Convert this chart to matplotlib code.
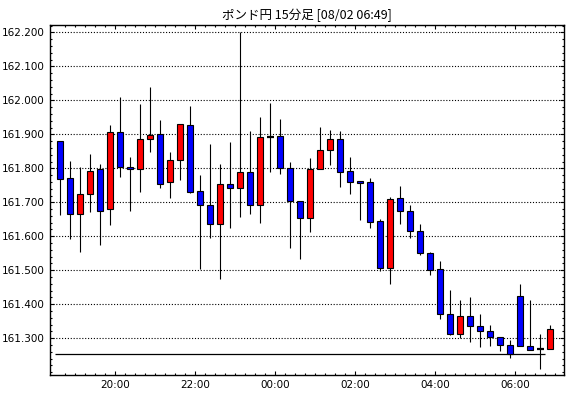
import matplotlib
matplotlib.use("Agg")
import matplotlib.pyplot as plt
import numpy as np
import pandas as pd
from matplotlib.ticker import MultipleLocator, FixedLocator

# 15分足 (18:30 - 06:45)
times = pd.date_range("2023-08-01 18:30", periods=50, freq="15min")
opens = [161.879, 161.771, 161.665, 161.724, 161.797, 161.679, 161.906, 161.803, 161.797, 161.885,
         161.900, 161.759, 161.824, 161.926, 161.732, 161.691, 161.635, 161.753, 161.741, 161.788,
         161.691, 161.892, 161.894, 161.800, 161.703, 161.653, 161.797, 161.853, 161.885, 161.791,
         161.762, 161.759, 161.644, 161.508, 161.712, 161.674, 161.615, 161.550, 161.503, 161.371,
         161.312, 161.365, 161.335, 161.321, 161.303, 161.279, 161.424, 161.276, 161.268, 161.268]
highs = [161.880, 161.822, 161.804, 161.842, 161.813, 161.927, 162.010, 161.834, 161.989, 162.039,
         161.943, 161.848, 161.930, 161.983, 161.780, 161.872, 161.813, 161.877, 162.202, 161.910,
         161.951, 161.992, 161.945, 161.819, 161.703, 161.830, 161.922, 161.913, 161.910, 161.833,
         161.762, 161.772, 161.650, 161.715, 161.748, 161.691, 161.636, 161.553, 161.527, 161.442,
         161.413, 161.422, 161.371, 161.339, 161.303, 161.294, 161.460, 161.413, 161.312, 161.338]
lows = [161.664, 161.593, 161.555, 161.672, 161.573, 161.634, 161.775, 161.674, 161.730, 161.849,
        161.743, 161.714, 161.767, 161.727, 161.505, 161.596, 161.473, 161.625, 161.658, 161.667,
        161.640, 161.790, 161.784, 161.567, 161.534, 161.614, 161.797, 161.811, 161.746, 161.725,
        161.649, 161.623, 161.499, 161.461, 161.637, 161.596, 161.544, 161.487, 161.356, 161.309,
        161.300, 161.290, 161.273, 161.278, 161.264, 161.243, 161.276, 161.265, 161.211, 161.268]
closes = [161.768, 161.665, 161.724, 161.791, 161.675, 161.906, 161.803, 161.797, 161.886, 161.897,
          161.755, 161.824, 161.929, 161.731, 161.691, 161.635, 161.753, 161.741, 161.788, 161.691,
          161.891, 161.892, 161.800, 161.703, 161.653, 161.797, 161.853, 161.885, 161.790, 161.761,
          161.756, 161.641, 161.508, 161.709, 161.673, 161.615, 161.550, 161.500, 161.371, 161.312,
          161.365, 161.335, 161.321, 161.303, 161.279, 161.255, 161.276, 161.265, 161.268, 161.326]
price_ticks = [161.3, 161.4, 161.5, 161.6, 161.7, 161.8, 161.9, 162.0, 162.1, 162.2]
ref_line = 161.254
title = "ポンド円 15分足 [08/02 06:49]"

plt.rcParams['font.family'] = ['DejaVu Sans']

fig = plt.figure(figsize=(5.7, 3.98), dpi=100)
W, H = 570, 398
ax = fig.add_axes([49.7 / W, 1 - 374.7 / H, (564.3 - 49.7) / W, (374.7 - 24.7) / H])

x = np.arange(len(times))
o = np.array(opens)
c = np.array(closes)

# ヒゲ
ax.vlines(x, lows, highs, color="black", lw=0.8, zorder=2)

# 実体
up = c > o
down = c < o
flat = c == o
ax.bar(x[up], (c - o)[up], bottom=o[up], width=0.6, color="#ff0000",
       edgecolor="black", linewidth=0.8, zorder=3)
ax.bar(x[down], (o - c)[down], bottom=c[down], width=0.6, color="#0000ff",
       edgecolor="black", linewidth=0.8, zorder=3)
ax.hlines(c[flat], x[flat] - 0.33, x[flat] + 0.33, color="black", lw=1.6, zorder=3)

ax.hlines(ref_line, -0.55, 48.5, color="black", lw=0.9, zorder=2)

ax.set_xlim(-1.06, 50.4)
ax.set_ylim(161.1929, 162.2224)

# 目盛り
major_pos = [i - 0.5 for i, t in enumerate(times) if t.minute == 0 and t.hour % 2 == 0]
major_lab = [times[i].strftime("%H:%M") for i, t in enumerate(times) if t.minute == 0 and t.hour % 2 == 0]
ax.xaxis.set_major_locator(FixedLocator(major_pos))
ax.set_xticklabels(major_lab)
ax.xaxis.set_minor_locator(FixedLocator(x + 0.5))
ax.yaxis.set_major_locator(FixedLocator(price_ticks))
ax.yaxis.set_minor_locator(MultipleLocator(0.02))
ax.yaxis.set_major_formatter(matplotlib.ticker.FormatStrFormatter("%.3f"))

ax.tick_params(which="both", direction="in", top=True, right=True, colors="black",
               labelsize=7.5, width=0.8)
ax.tick_params(which="major", length=3.0, pad=3.5)
ax.tick_params(which="minor", length=1.6)

ax.grid(axis="y", which="major", color="black", linestyle=(0, (1, 1.6)), lw=0.8)
for s in ax.spines.values():
    s.set_linewidth(1.0)

ax.set_title(title, fontsize=9, pad=4, family=['Noto Sans CJK JP', 'DejaVu Sans'])

fig.savefig("out.png", dpi=100)
